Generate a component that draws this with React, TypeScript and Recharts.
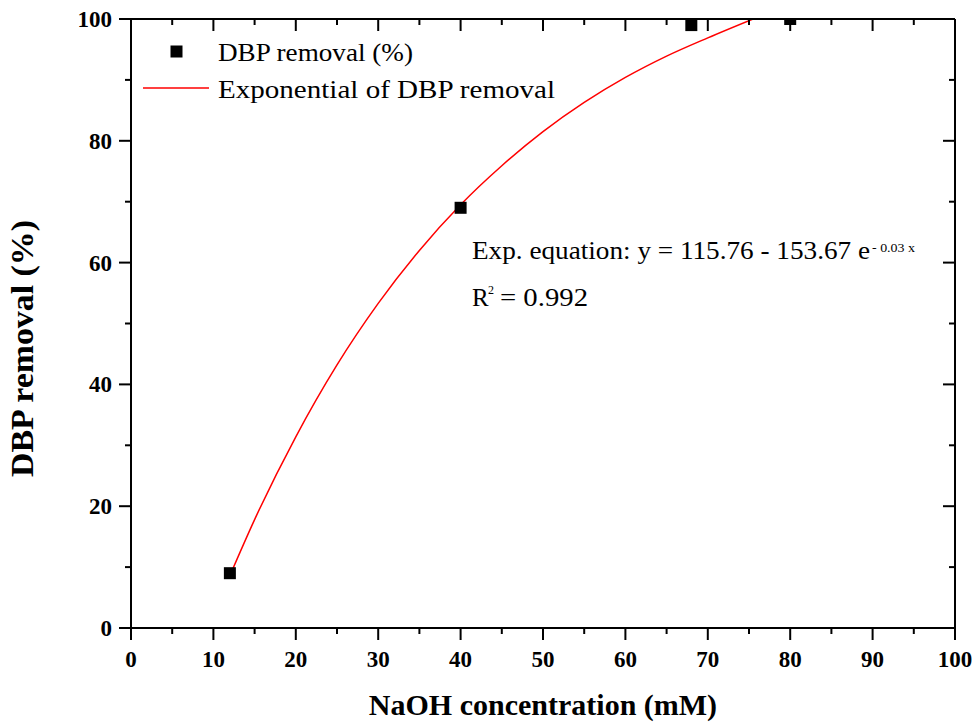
import React from "react";
import {
  ComposedChart,
  XAxis,
  YAxis,
  Scatter,
  Line,
  Legend,
  Label,
} from "recharts";

// Measured removal at each NaOH dose
const DOSE_MM = [12, 40, 68, 80];
const REMOVAL_PCT = [9, 69, 99, 100];

// Fitted exponential curve, sampled along the dose axis
const FIT_X = [12, 15, 20, 25, 30, 35, 40, 45, 50, 55, 60, 65, 70, 75.5];
const FIT_Y = [8.6, 17.8, 31.4, 43.2, 53.3, 62.0, 69.5, 75.9, 81.5, 86.3, 90.4, 93.9, 96.9, 100];

const X_TICKS = [0, 5, 10, 15, 20, 25, 30, 35, 40, 45, 50, 55, 60, 65, 70, 75, 80, 85, 90, 95, 100];
const Y_TICKS = [0, 10, 20, 30, 40, 50, 60, 70, 80, 90, 100];
const X_DOMAIN: [number, number] = [0, 100];
const Y_DOMAIN: [number, number] = [0, 100];

const points = DOSE_MM.map((x, i) => ({ x, y: REMOVAL_PCT[i] }));
const fit = FIT_X.map((x, i) => ({ x, y: FIT_Y[i] }));

const SERIF = "'Liberation Serif', 'Times New Roman', serif";
const MAJOR = 12;
const MINOR = 6;

const BottomTick = (props: any) => {
  const { x, y, payload } = props;
  const major = payload.value % 10 === 0;
  return (
    <g>
      <line x1={x} y1={y} x2={x} y2={y + (major ? MAJOR : MINOR)} stroke="#000" strokeWidth={2} />
      {major && (
        <text x={x} y={y + 39} textAnchor="middle" fontFamily={SERIF} fontWeight="bold" fontSize={23} fill="#000">
          {payload.value}
        </text>
      )}
    </g>
  );
};

const TopTick = (props: any) => {
  const { x, y, payload } = props;
  const major = payload.value % 10 === 0;
  return <line x1={x} y1={y} x2={x} y2={y + (major ? MAJOR : MINOR)} stroke="#000" strokeWidth={2} />;
};

const LeftTick = (props: any) => {
  const { x, y, payload } = props;
  const major = payload.value % 20 === 0;
  return (
    <g>
      <line x1={x} y1={y} x2={x - (major ? MAJOR : MINOR)} y2={y} stroke="#000" strokeWidth={2} />
      {major && (
        <text x={x - 19} y={y + 8} textAnchor="end" fontFamily={SERIF} fontWeight="bold" fontSize={23} fill="#000">
          {payload.value}
        </text>
      )}
    </g>
  );
};

const RightTick = (props: any) => {
  const { x, y, payload } = props;
  const major = payload.value % 20 === 0;
  return <line x1={x} y1={y} x2={x - (major ? MAJOR : MINOR)} y2={y} stroke="#000" strokeWidth={2} />;
};

// Filled square marker; a marker sitting on the top of the y range keeps only its in-frame half
const SquareMarker = (props: any) => {
  const { cx, cy, payload } = props;
  const half = 6;
  const top = payload && payload.y >= Y_DOMAIN[1] ? cy : cy - half;
  return <rect x={cx - half} y={top} width={half * 2} height={cy + half - top} fill="#000" />;
};

const YTitle = (props: any) => {
  const vb = props.viewBox || { x: 0, y: 0, width: 0, height: 0 };
  const cx = vb.x + 33;
  const cy = vb.y + vb.height / 2 + 25;
  return (
    <text
      transform={`translate(${cx},${cy}) rotate(-90)`}
      textAnchor="middle"
      fontFamily={SERIF}
      fontWeight="bold"
      fontSize={31}
      textLength={257}
      lengthAdjust="spacingAndGlyphs"
      fill="#000"
    >
      DBP removal (%)
    </text>
  );
};

const LegendBox = () => (
  <svg width={460} height={80} style={{ display: "block" }}>
    <rect x={40.5} y={15.5} width={12} height={12} fill="#000" />
    <text x={88} y={31} fontFamily={SERIF} fontSize={26} textLength={195} lengthAdjust="spacingAndGlyphs" fill="#000">
      DBP removal (%)
    </text>
    <line x1={13} y1={58} x2={79} y2={58} stroke="#ff0000" strokeWidth={1.5} />
    <text x={88} y={68} fontFamily={SERIF} fontSize={26} textLength={337} lengthAdjust="spacingAndGlyphs" fill="#000">
      Exponential of DBP removal
    </text>
  </svg>
);

export default function App() {
  return (
    <div style={{ position: "absolute", left: 0, top: 0, width: 976, height: 722, background: "#fff" }}>
      <ComposedChart
        width={976}
        height={722}
        margin={{ top: 19, right: 21, left: 0, bottom: 0 }}
        style={{ fontFamily: SERIF }}
      >
        <XAxis
          xAxisId={0}
          dataKey="x"
          type="number"
          domain={X_DOMAIN}
          ticks={X_TICKS}
          interval={0}
          allowDataOverflow
          height={94}
          tickSize={0}
          tickMargin={0}
          tickLine={false}
          tick={<BottomTick />}
          axisLine={{ stroke: "#000", strokeWidth: 2 }}
        >
          <Label
            value="NaOH concentration (mM)"
            position="insideBottom"
            offset={7}
            fontFamily={SERIF}
            fontWeight="bold"
            fontSize={30}
            fill="#000"
          />
        </XAxis>
        <XAxis
          xAxisId="top"
          orientation="top"
          mirror
          dataKey="x"
          type="number"
          domain={X_DOMAIN}
          ticks={X_TICKS}
          interval={0}
          allowDataOverflow
          tickSize={0}
          tickMargin={0}
          tickLine={false}
          tick={<TopTick />}
          axisLine={{ stroke: "#000", strokeWidth: 2 }}
        />
        <YAxis
          yAxisId={0}
          dataKey="y"
          type="number"
          domain={Y_DOMAIN}
          ticks={Y_TICKS}
          interval={0}
          allowDataOverflow
          width={131}
          tickSize={0}
          tickMargin={0}
          tickLine={false}
          tick={<LeftTick />}
          axisLine={{ stroke: "#000", strokeWidth: 2 }}
        >
          <Label content={<YTitle />} position="insideLeft" />
        </YAxis>
        <YAxis
          yAxisId="right"
          orientation="right"
          mirror
          dataKey="y"
          type="number"
          domain={Y_DOMAIN}
          ticks={Y_TICKS}
          interval={0}
          allowDataOverflow
          tickSize={0}
          tickMargin={0}
          tickLine={false}
          tick={<RightTick />}
          axisLine={{ stroke: "#000", strokeWidth: 2 }}
        />
        <Line
          data={fit}
          xAxisId={0}
          yAxisId={0}
          dataKey="y"
          type="monotone"
          stroke="#ff0000"
          strokeWidth={1.5}
          dot={false}
          activeDot={false}
          isAnimationActive={false}
          legendType="line"
          name="Exponential of DBP removal"
        />
        <Scatter
          data={points}
          xAxisId={0}
          yAxisId={0}
          dataKey="y"
          fill="#000"
          shape={<SquareMarker />}
          isAnimationActive={false}
          legendType="square"
          name="DBP removal (%)"
        />
        <Legend
          layout="vertical"
          align="center"
          verticalAlign="middle"
          wrapperStyle={{ left: 130, top: 30, width: 460, height: 80 }}
          content={<LegendBox />}
        />
      </ComposedChart>
      <svg
        width={976}
        height={722}
        style={{ position: "absolute", left: 0, top: 0, pointerEvents: "none" }}
      >
        <text x={472} y={259} fontFamily={SERIF} fontSize={25} textLength={398} lengthAdjust="spacingAndGlyphs" fill="#000">
          Exp. equation: y = 115.76 - 153.67 e
        </text>
        <text x={872} y={252} fontFamily={SERIF} fontSize={13} textLength={43} lengthAdjust="spacingAndGlyphs" fill="#000">
          - 0.03 x
        </text>
        <text x={472} y={306} fontFamily={SERIF} fontSize={25} fill="#000">
          R
        </text>
        <text x={488} y={294} fontFamily={SERIF} fontSize={12} fill="#000">
          2
        </text>
        <text x={500} y={306} fontFamily={SERIF} fontSize={25} textLength={88} lengthAdjust="spacingAndGlyphs" fill="#000">
          = 0.992
        </text>
      </svg>
    </div>
  );
}
